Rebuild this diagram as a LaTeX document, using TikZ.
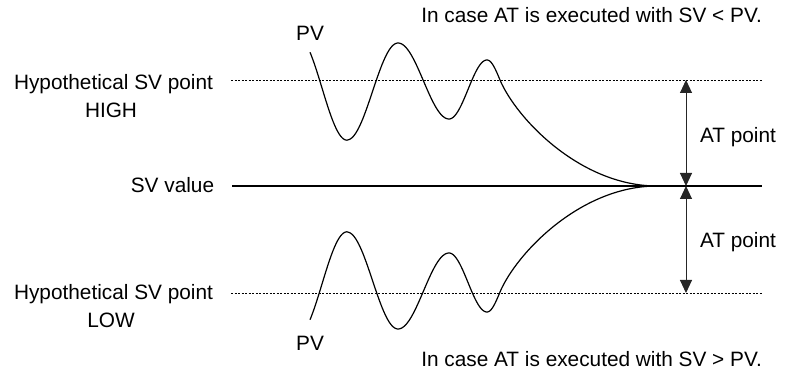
\documentclass[tikz,border=0pt]{standalone}
\usepackage{fontspec}
\setmainfont{Liberation Sans}
\usetikzlibrary{arrows.meta}
\newcommand\pvcurve{%
  plot[domain=46.8:180,samples=40] ({297+50*\x/180},{287+52.2*cos(\x)})
  -- plot[domain=0:180,samples=40] ({347+51*\x/180},{283.5-48.5*cos(\x)})
  -- plot[domain=0:180,samples=40] ({398+51*\x/180},{294+38*cos(\x)})
  -- plot[domain=0:180,samples=40] ({449+38*\x/180},{285.5-29.5*cos(\x)})
  -- plot[domain=0:90,samples=25] ({487+26*\x/180},{295+20*cos(\x)})
  .. controls (516,257) and (580,189) .. (657,189)}
\begin{document}
\begin{tikzpicture}[x=1pt,y=1pt,
  txt/.style={inner sep=0pt,anchor=base,font=\fontsize{20.8}{25}\selectfont},
  dotline/.style={line width=0.8pt,dash pattern=on 2pt off 1.5pt},
  svline/.style={line width=2.4pt},
  curve/.style={line width=1.2pt,line join=round},
  atarrow/.style={line width=1pt,black!85,{Triangle[length=13pt,width=12pt]}-{Triangle[length=13pt,width=12pt]}}]
\useasboundingbox (0,0) rectangle (790,375);
% lines
\coordinate (hl) at (231,295); \coordinate (hr) at (762,295);
\coordinate (sl) at (232,189); \coordinate (sr) at (762,189);
\coordinate (ll) at (231,82);  \coordinate (lr) at (762,82);
\draw[dotline] (hl) -- (hr);
\draw[dotline] (ll) -- (lr);
\draw[svline] (sl) -- (sr);
% curves
\draw[curve] \pvcurve;
\begin{scope}[shift={(0,378)},yscale=-1]
\draw[curve] \pvcurve;
\end{scope}
% arrows
\coordinate (atop) at (686,295);
\coordinate (amid) at (686,189);
\coordinate (abot) at (686,82);
\draw[atarrow] (atop) -- (amid);
\draw[atarrow] (amid) -- (abot);
% labels
\node[txt] (hh1) at (113.5,285) {Hypothetical SV point};
\node[txt] (hh2) at (111,257) {HIGH};
\node[txt] (sv) at (172.5,182) {SV value};
\node[txt] (lh1) at (113.5,75) {Hypothetical SV point};
\node[txt] (lh2) at (111,47) {LOW};
\node[txt] (pvt) at (310,334) {PV};
\node[txt] (pvb) at (310,24) {PV};
\node[txt] (at1) at (738,232) {AT point};
\node[txt] (at2) at (738,127) {AT point};
\node[txt,anchor=base east] (ct) at (762,352) {In case AT is executed with SV < PV.};
\node[txt,anchor=base east] (cb) at (762,9) {In case AT is executed with SV > PV.};
\end{tikzpicture}
\end{document}
